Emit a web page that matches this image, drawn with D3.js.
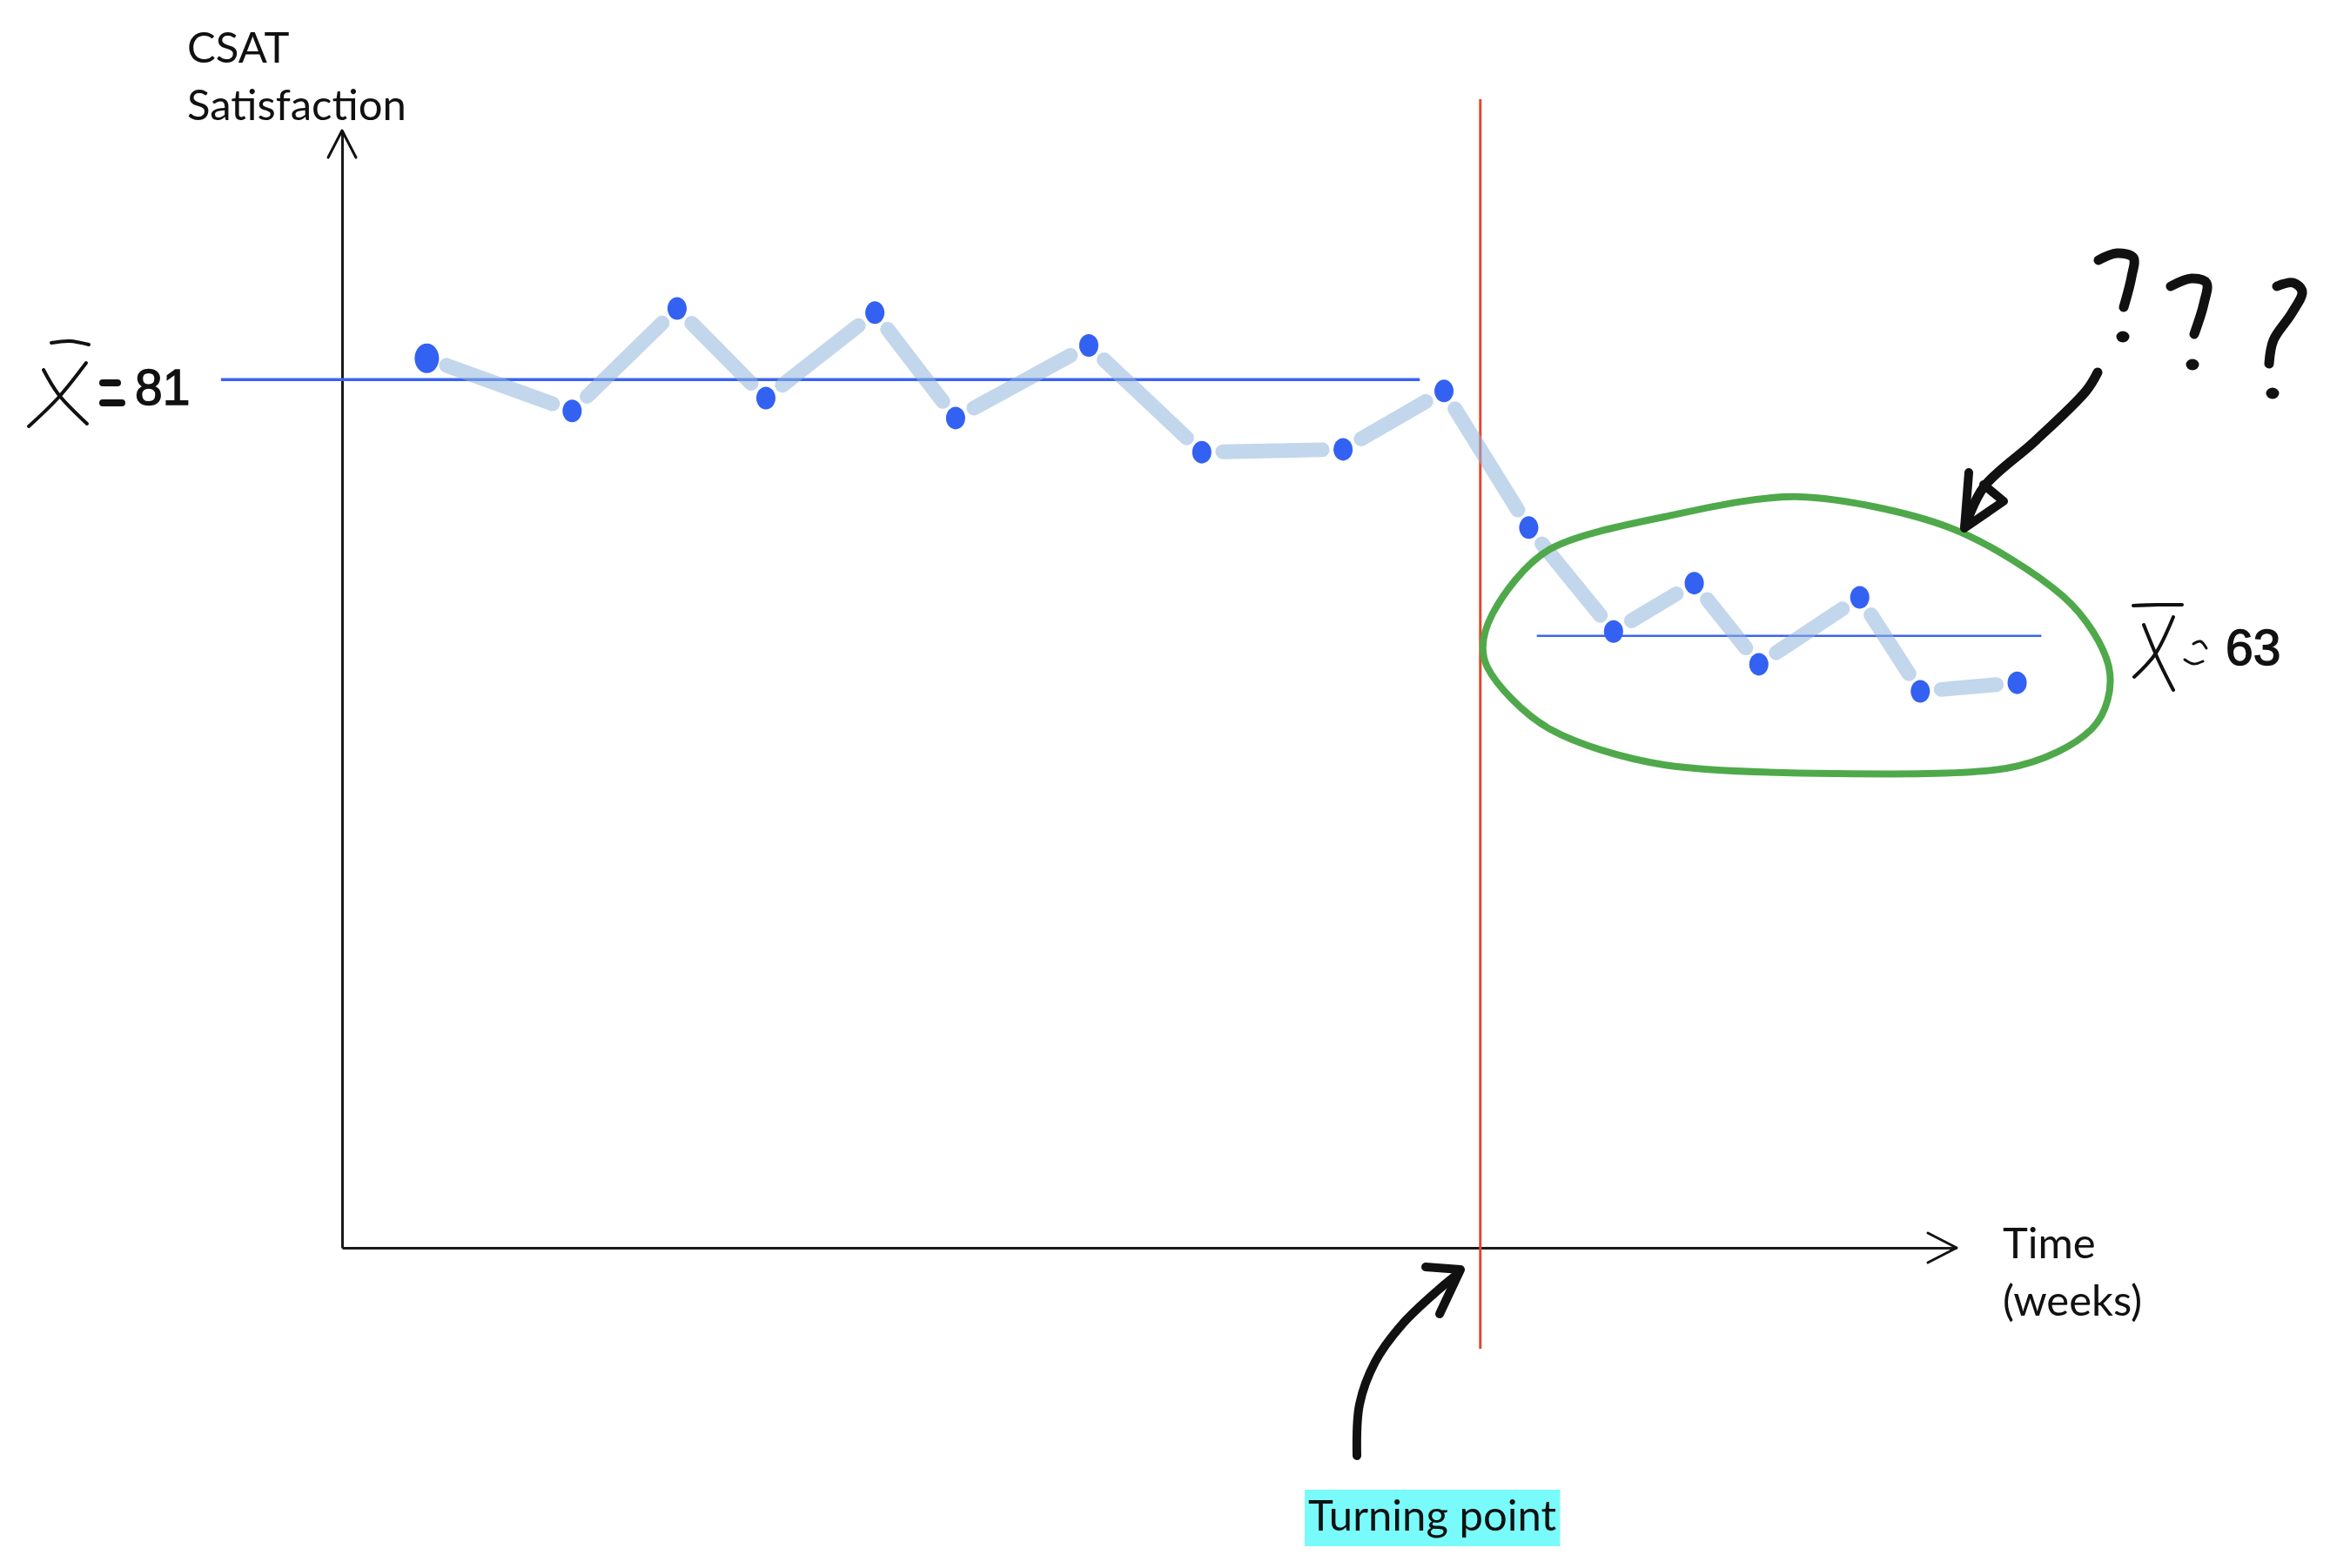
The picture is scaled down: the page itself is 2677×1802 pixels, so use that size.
<!DOCTYPE html>
<meta charset="utf-8">
<style>
  body { margin: 0; background: #fff; }
  .axis .domain { stroke: #1a1a1a; stroke-width: 3; }
  .label { font-family: Lato, "Open Sans", sans-serif; font-size: 49px; fill: #111; }
  .mean-num { font-family: "Liberation Sans", Arial, sans-serif; font-size: 57px; fill: #111; stroke: #111; stroke-width: 1.4; }
  .ink { fill: none; stroke: #111; stroke-linecap: round; stroke-linejoin: round; }
</style>
<svg width="2677" height="1802"></svg>
<script src="https://cdn.jsdelivr.net/npm/d3@7"></script>
<script>
  // CSAT score per week
  var weeks = [1.05, 2.85, 4.15, 5.25, 6.6, 7.6, 9.25, 10.65, 12.4, 13.65, 14.7, 15.75, 16.75, 17.55, 18.8, 19.55, 20.75];
  var csat = [82.5, 78.8, 86.0, 79.7, 85.7, 78.3, 83.4, 75.9, 76.1, 80.2, 70.6, 63.3, 66.7, 61.0, 65.7, 59.1, 59.7];

  var turningWeek = 14.1;
  var meanBefore = 81, meanBeforeWeeks = [-1.5, 13.35];
  var meanAfter = 63, meanAfterWeeks = [14.8, 21.05];

  var yTitle = ["CSAT", "Satisfaction"];
  var xTitle = ["Time", "(weeks)"];
  var turningLabel = "Turning point";

  var svg = d3.select("svg");

  var x = d3.scaleLinear().domain([0, 20]).range([393, 2248]);
  var y = d3.scaleLinear().domain([20, 98.5]).range([1434, 150]);

  // axes without ticks, arrow heads at the ends
  svg.append("g")
    .attr("class", "axis")
    .attr("transform", "translate(0," + y(20) + ")")
    .call(d3.axisBottom(x).tickValues([]).tickSizeOuter(0));
  svg.append("g")
    .attr("class", "axis")
    .attr("transform", "translate(" + x(0) + ",0)")
    .call(d3.axisLeft(y).tickValues([]).tickSizeOuter(0));

  var x1 = x.range()[1], y0 = y(20), yTop = y.range()[1], x0 = x(0);
  svg.append("path").attr("class", "ink").attr("stroke-width", 3)
    .attr("d", "M" + (x1 - 33) + "," + (y0 - 17) + "L" + x1 + "," + y0 + "L" + (x1 - 33) + "," + (y0 + 17));
  svg.append("path").attr("class", "ink").attr("stroke-width", 3)
    .attr("d", "M" + (x0 - 16) + "," + (yTop + 31) + "L" + x0 + "," + yTop + "L" + (x0 + 16) + "," + (yTop + 31));

  svg.append("text").attr("class", "label")
    .selectAll("tspan").data(yTitle).enter().append("tspan")
    .attr("x", 215).attr("y", function(d, i) { return 72 + i * 66; })
    .text(function(d) { return d; });
  svg.append("text").attr("class", "label")
    .selectAll("tspan").data(xTitle).enter().append("tspan")
    .attr("x", 2301).attr("y", function(d, i) { return 1446 + i * 66; })
    .text(function(d) { return d; });

  // mean lines
  svg.append("line")
    .attr("x1", x(meanBeforeWeeks[0])).attr("x2", x(meanBeforeWeeks[1]))
    .attr("y1", y(meanBefore)).attr("y2", y(meanBefore))
    .attr("stroke", "#3a63f2").attr("stroke-width", 3.5);
  svg.append("line")
    .attr("x1", x(meanAfterWeeks[0])).attr("x2", x(meanAfterWeeks[1]))
    .attr("y1", y(meanAfter)).attr("y2", y(meanAfter))
    .attr("stroke", "#3a63f2").attr("stroke-width", 2.5);

  // turning point
  svg.append("line")
    .attr("x1", x(turningWeek)).attr("x2", x(turningWeek))
    .attr("y1", 114).attr("y2", 1550)
    .attr("stroke", "#e0492f").attr("stroke-width", 3);

  // light blue hand-drawn segments, broken near each dot
  var pts = weeks.map(function(w, i) { return [x(w), y(csat[i])]; });
  var gap = 24;
  var segs = d3.pairs(pts).map(function(p) {
    var dx = p[1][0] - p[0][0], dy = p[1][1] - p[0][1], len = Math.sqrt(dx * dx + dy * dy);
    var ux = dx / len, uy = dy / len;
    return [p[0][0] + ux * gap, p[0][1] + uy * gap, p[1][0] - ux * gap, p[1][1] - uy * gap];
  });
  svg.append("g").selectAll("line").data(segs).enter().append("line")
    .attr("x1", function(d) { return d[0]; }).attr("y1", function(d) { return d[1]; })
    .attr("x2", function(d) { return d[2]; }).attr("y2", function(d) { return d[3]; })
    .attr("stroke", "#8fb5dd").attr("stroke-opacity", 0.55)
    .attr("stroke-width", 17).attr("stroke-linecap", "round");

  svg.append("g").selectAll("ellipse").data(weeks).enter().append("ellipse")
    .attr("cx", function(d) { return x(d); })
    .attr("cy", function(d, i) { return y(csat[i]); })
    .attr("rx", function(d, i) { return i === 0 ? 14 : 11; })
    .attr("ry", function(d, i) { return i === 0 ? 17 : 13; })
    .attr("fill", "#3361f2");

  // green loop round the weeks after the turning point
  var loop = [[1709, 767], [1715, 705], [1781, 631], [1912, 594], [2069, 571], [2239, 606], [2370, 685],
              [2423, 767], [2403, 838], [2305, 883], [2108, 889], [1912, 879], [1781, 838]];
  svg.append("path")
    .attr("d", d3.line().curve(d3.curveCardinalClosed.tension(0.1))(loop))
    .attr("fill", "none").attr("stroke", "#4fa94b").attr("stroke-width", 8);

  var pen = d3.line().curve(d3.curveCatmullRom);

  // question marks and the arrow pointing at the loop
  var qs = [
    [[[2411, 299], [2432, 291], [2451, 296], [2449, 318], [2440, 353]], [2439, 387]],
    [[[2494, 329], [2518, 320], [2535, 325], [2532, 349], [2521, 384]], [2519, 419]],
    [[[2616, 329], [2635, 325], [2645, 335], [2633, 360], [2612, 391], [2607, 418]], [2611, 452]]
  ];
  qs.forEach(function(q) {
    svg.append("path").attr("class", "ink").attr("stroke-width", 11).attr("d", pen(q[0]));
    svg.append("ellipse").attr("cx", q[1][0]).attr("cy", q[1][1]).attr("rx", 7.5).attr("ry", 6.5).attr("fill", "#111");
  });
  svg.append("path").attr("class", "ink").attr("stroke-width", 11)
    .attr("d", pen([[2410, 428], [2397, 449], [2338, 507], [2279, 560], [2258, 604]]));
  svg.append("path").attr("class", "ink").attr("stroke-width", 10)
    .attr("d", "M2262,543L2257,607L2302,576L2279,557");

  // arrow up to the turning point
  svg.append("path").attr("class", "ink").attr("stroke-width", 10)
    .attr("d", pen([[1559, 1673], [1562, 1614], [1580, 1565], [1611, 1522], [1653, 1482], [1675, 1464]]));
  svg.append("path").attr("class", "ink").attr("stroke-width", 10)
    .attr("d", "M1638,1456L1678,1459L1654,1510");

  var tp = svg.append("g");
  var tpRect = tp.append("rect").attr("fill", "#7afbfb");
  var tpText = tp.append("text").attr("class", "label").attr("x", 1503).attr("y", 1759).text(turningLabel);
  var bb = tpText.node().getBBox();
  tpRect.attr("x", bb.x - 4).attr("y", 1712).attr("width", bb.width + 8).attr("height", 65);

  // x-bar labels
  function xbar(g, a, b, bar) {
    g.append("path").attr("class", "ink").attr("stroke-width", 4).attr("d", pen(a));
    g.append("path").attr("class", "ink").attr("stroke-width", 4).attr("d", pen(b));
    g.append("path").attr("class", "ink").attr("stroke-width", 4).attr("d", pen(bar));
  }
  var lb = svg.append("g");
  xbar(lb, [[33, 490], [67, 457], [99, 417]], [[50, 425], [67, 453], [100, 487]], [[59, 394], [80, 392], [102, 396]]);
  lb.append("path").attr("class", "ink").attr("stroke-width", 8).attr("d", "M118,440L135,440M118,463L140,463");
  lb.append("text").attr("class", "mean-num").attr("x", 155).attr("y", 465).text(meanBefore);

  var la = svg.append("g");
  xbar(la, [[2463, 718], [2480, 759], [2497, 793]], [[2497, 709], [2476, 752], [2452, 778]], [[2451, 696], [2479, 695], [2507, 695]]);
  la.append("path").attr("class", "ink").attr("stroke-width", 3)
    .attr("d", pen([[2520, 740], [2528, 737], [2535, 745]]));
  la.append("path").attr("class", "ink").attr("stroke-width", 3)
    .attr("d", pen([[2510, 758], [2520, 763], [2531, 760]]));
  la.append("text").attr("class", "mean-num").attr("x", 2557).attr("y", 764).text(meanAfter);
</script>
